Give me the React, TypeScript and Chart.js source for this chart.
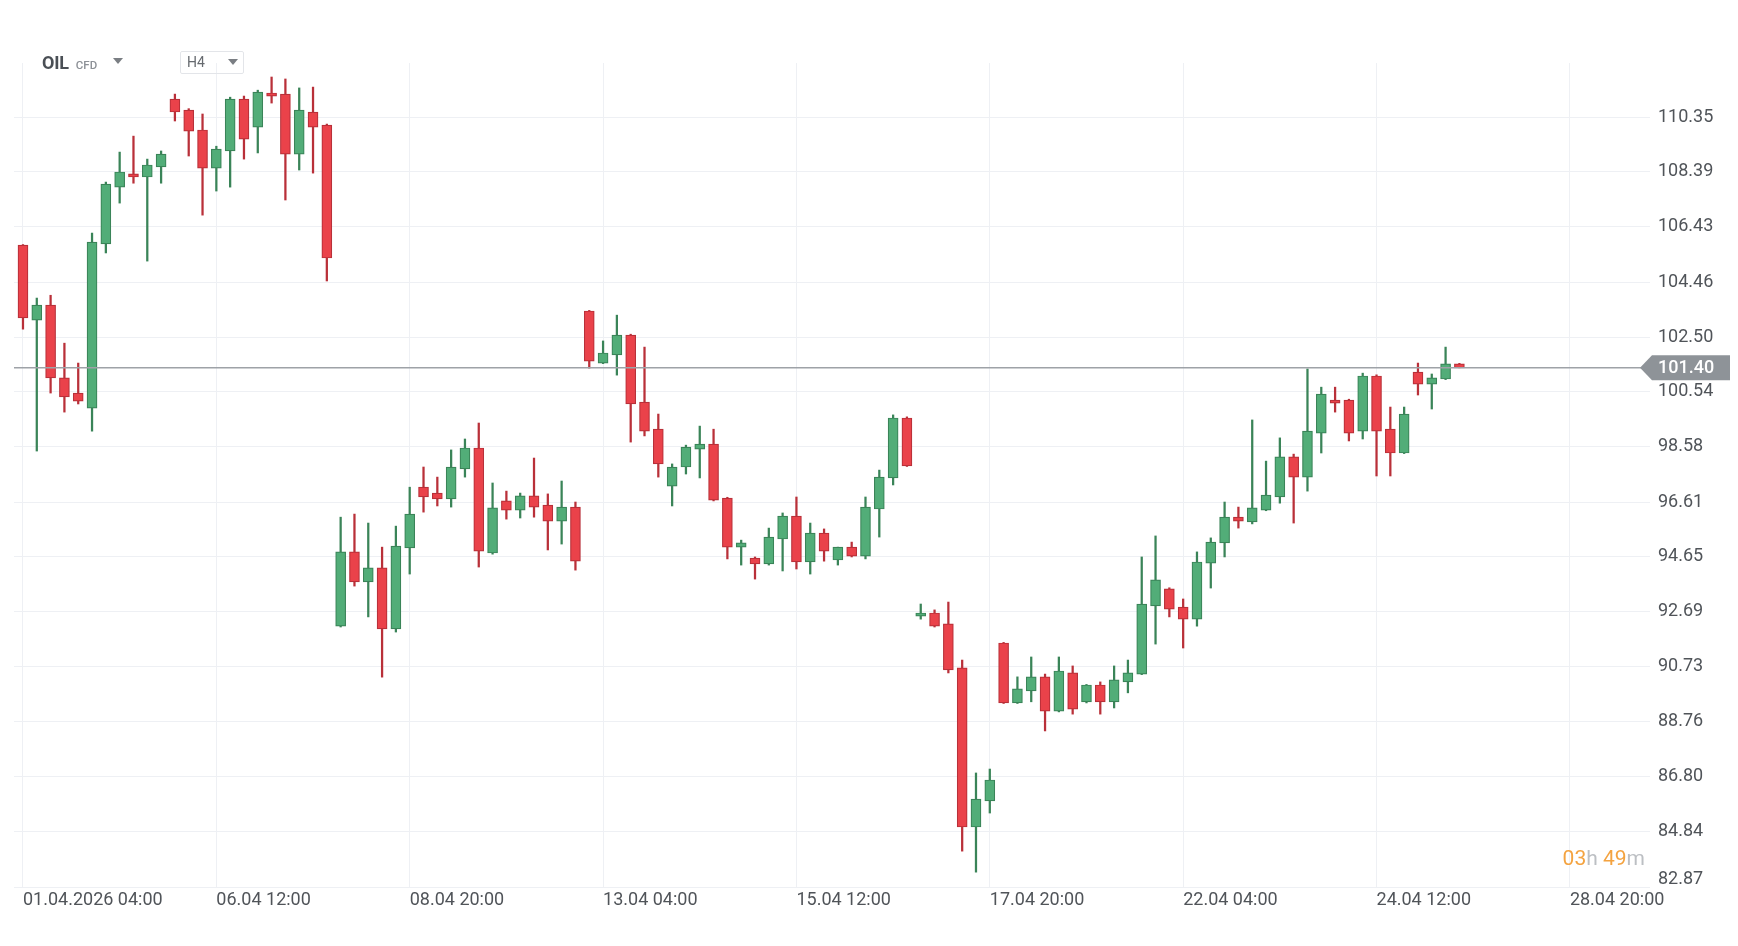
import React, { useEffect, useRef } from "react";
import { Chart, registerables } from "chart.js";

Chart.register(...registerables);

// ---- data (H4 candles, OIL CFD) ----
const opens = [
  105.78, 103.1, 103.64, 101.04, 100.5, 99.96, 105.82, 107.85, 108.32, 108.21,
  108.57, 110.99, 110.6, 109.89, 108.53, 109.14, 110.99, 109.99, 111.21, 111.17,
  109.03, 110.53, 110.06, 92.18, 94.83, 93.76, 94.26, 92.08, 94.97, 97.14,
  96.93, 96.72, 97.79, 98.54, 94.79, 96.65, 96.32, 96.83, 96.5, 95.93,
  96.43, 103.43, 101.57, 101.86, 102.57, 100.18, 99.21, 97.18, 97.86, 98.5,
  98.68, 96.75, 95.0, 94.61, 94.4, 95.29, 96.11, 94.47, 95.5, 94.54,
  95.0, 94.68, 96.36, 97.47, 99.61, 92.54, 92.65, 92.26, 90.69, 85.01,
  85.94, 91.58, 89.44, 89.87, 90.37, 89.15, 90.51, 89.48, 90.08, 89.48,
  90.19, 90.47, 92.9, 93.51, 92.86, 92.43, 94.43, 95.15, 96.07, 95.9,
  96.32, 96.79, 98.22, 97.5, 99.07, 100.25, 100.25, 99.14, 101.11, 99.21,
  98.36, 101.25, 100.82, 101.0, 101.54,
];
const highs = [
  105.8, 103.89, 103.99, 102.28, 101.57, 106.21, 108.03, 109.1, 109.67, 108.85,
  109.14, 111.17, 110.65, 110.46, 109.31, 111.06, 111.1, 111.31, 111.78, 111.71,
  111.39, 111.42, 110.1, 96.07, 96.18, 95.86, 95.0, 95.75, 97.14, 97.86,
  97.5, 98.47, 98.86, 99.43, 97.29, 97.0, 96.93, 98.18, 96.9, 97.36,
  96.61, 103.45, 102.36, 103.28, 102.6, 102.14, 99.75, 97.97, 98.64, 99.32,
  99.21, 96.78, 95.25, 94.65, 95.68, 96.22, 96.79, 95.86, 95.65, 95.0,
  95.18, 96.79, 97.75, 99.72, 99.65, 92.97, 92.76, 93.04, 90.97, 86.94,
  87.08, 91.6, 90.37, 91.08, 90.47, 91.08, 90.76, 90.1, 90.19, 90.76,
  90.97, 94.65, 95.4, 93.55, 93.15, 94.83, 95.33, 96.61, 96.43, 99.54,
  98.07, 98.9, 98.32, 101.36, 100.71, 100.71, 100.28, 101.21, 101.15, 100.0,
  100.0, 101.57, 101.18, 102.14, 101.56,
];
const lows = [
  102.78, 98.43, 100.5, 99.82, 100.11, 99.14, 105.5, 107.28, 107.99, 105.21,
  107.99, 110.21, 108.96, 106.85, 107.71, 107.85, 108.85, 109.07, 110.85, 107.39,
  108.46, 108.35, 104.5, 92.15, 93.61, 92.51, 90.36, 91.97, 94.04, 96.25,
  96.47, 96.43, 97.5, 94.29, 94.75, 96.0, 96.04, 96.07, 94.9, 95.11,
  94.18, 101.39, 101.55, 101.14, 98.75, 98.97, 97.5, 96.47, 97.61, 97.47,
  96.65, 94.58, 94.36, 93.86, 94.36, 94.15, 94.22, 94.04, 94.5, 94.36,
  94.65, 94.58, 95.36, 97.22, 97.88, 92.43, 92.15, 90.51, 84.15, 83.4,
  85.51, 89.42, 89.42, 89.48, 88.44, 89.12, 89.04, 89.44, 89.04, 89.26,
  89.8, 90.45, 91.54, 92.51, 91.4, 92.18, 93.54, 94.65, 95.68, 95.83,
  96.3, 96.57, 95.86, 97.0, 98.36, 99.82, 98.79, 98.86, 97.54, 97.54,
  98.34, 100.43, 99.93, 100.98, 101.4,
];
const closes = [
  103.18, 103.64, 101.04, 100.36, 100.21, 105.89, 107.96, 108.39, 108.21, 108.64,
  109.03, 110.53, 109.85, 108.53, 109.21, 110.99, 109.56, 111.24, 111.1, 109.03,
  110.6, 109.99, 105.32, 94.83, 93.76, 94.26, 92.08, 95.04, 96.18, 96.79,
  96.72, 97.86, 98.54, 94.86, 96.4, 96.32, 96.83, 96.43, 95.93, 96.43,
  94.5, 101.64, 101.93, 102.57, 100.11, 99.14, 97.97, 97.86, 98.57, 98.68,
  96.68, 95.0, 95.15, 94.4, 95.36, 96.11, 94.47, 95.5, 94.86, 95.0,
  94.68, 96.43, 97.5, 99.61, 97.9, 92.65, 92.18, 90.62, 85.01, 86.01,
  86.69, 89.44, 89.94, 90.37, 89.15, 90.58, 89.22, 90.08, 89.48, 90.26,
  90.51, 92.97, 93.83, 92.79, 92.43, 94.47, 95.18, 96.07, 95.93, 96.4,
  96.86, 98.22, 97.5, 99.14, 100.46, 100.14, 99.07, 101.11, 99.14, 98.36,
  99.75, 100.82, 101.04, 101.54, 101.4,
];

const currentPrice = 101.4;
const currentPriceLabel = "101.40";

const xTickIndices = [0, 14, 28, 42, 56, 70, 84, 98, 112];
const xTickLabels = [
  "01.04.2026 04:00",
  "06.04 12:00",
  "08.04 20:00",
  "13.04 04:00",
  "15.04 12:00",
  "17.04 20:00",
  "22.04 04:00",
  "24.04 12:00",
  "28.04 20:00",
];

const yTickLabels = [
  "82.87", "84.84", "86.80", "88.76", "90.73", "92.69", "94.65", "96.61",
  "98.58", "100.54", "102.50", "104.46", "106.43", "108.39", "110.35",
];

const X_MIN = -0.65;
const X_MAX = 117.8;
const Y_MIN = 82.87;
const Y_MAX = 112.28;

const UP_FILL = "#52ad78";
const UP_LINE = "#3a8458";
const DOWN_FILL = "#ea424a";
const DOWN_LINE = "#b93039";
const GRID = "#eef0f4";
const TEXT = "#505459";
const FONT = "Roboto, 'Noto Sans', sans-serif";

const priceTagPlugin = {
  id: "priceTag",
  afterDatasetsDraw(chart: any) {
    const { ctx, chartArea } = chart;
    const y = chart.scales.y.getPixelForValue(currentPrice);
    const tip = chartArea.right - 10;
    const boxL = chartArea.right + 2;
    const boxR = chartArea.right + 80;
    const h = 25;
    ctx.save();
    ctx.fillStyle = "#8e9398";
    ctx.beginPath();
    ctx.moveTo(tip, y);
    ctx.lineTo(boxL, y - h / 2);
    ctx.lineTo(boxR, y - h / 2);
    ctx.lineTo(boxR, y + h / 2);
    ctx.lineTo(boxL, y + h / 2);
    ctx.closePath();
    ctx.fill();
    ctx.fillStyle = "#ffffff";
    ctx.font = `500 18px ${FONT}`;
    ctx.textAlign = "left";
    ctx.textBaseline = "middle";
    ctx.fillText(currentPriceLabel, chartArea.right + 8, y + 1);
    ctx.restore();
  },
};

function Triangle({ left, top }: { left: number; top: number }) {
  return (
    <div
      style={{
        position: "absolute",
        left,
        top,
        width: 0,
        height: 0,
        borderLeft: "5.5px solid transparent",
        borderRight: "5.5px solid transparent",
        borderTop: "6px solid #7a7e83",
      }}
    />
  );
}

export default function App() {
  const ref = useRef<HTMLCanvasElement>(null);

  useEffect(() => {
    const idx = opens.map((_, i) => i);
    const up = idx.map((i) => closes[i] >= opens[i]);
    const chart = new Chart(ref.current as HTMLCanvasElement, {
      type: "bar",
      data: {
        datasets: [
          {
            type: "line",
            order: 0,
            data: [
              { x: X_MIN, y: currentPrice },
              { x: X_MAX, y: currentPrice },
            ],
            borderColor: "#9ea2a7",
            borderWidth: 1.5,
            pointRadius: 0,
          } as any,
          {
            type: "bar",
            order: 1,
            data: idx.map((i) => ({ x: i, y: [opens[i], closes[i]] })),
            backgroundColor: up.map((u) => (u ? UP_FILL : DOWN_FILL)),
            borderColor: up.map((u) => (u ? UP_LINE : DOWN_LINE)),
            borderWidth: 1.2,
            borderSkipped: false,
            barThickness: 10,
            grouped: false,
          } as any,
          {
            type: "bar",
            order: 2,
            data: idx.map((i) => ({ x: i, y: [lows[i], highs[i]] })),
            backgroundColor: up.map((u) => (u ? UP_LINE : DOWN_LINE)),
            borderWidth: 0,
            barThickness: 1.6,
            grouped: false,
          } as any,
        ],
      },
      options: {
        animation: false,
        responsive: true,
        maintainAspectRatio: false,
        layout: { padding: { left: 14, top: 63, right: 0, bottom: 0 } },
        plugins: {
          legend: { display: false },
          tooltip: { enabled: false },
        },
        scales: {
          x: {
            type: "linear",
            min: X_MIN,
            max: X_MAX,
            offset: false,
            border: { display: false },
            grid: { color: GRID, lineWidth: 1, drawTicks: false, offset: false },
            afterBuildTicks: (scale: any) => {
              scale.ticks = xTickIndices.map((v) => ({ value: v }));
            },
            afterFit: (scale: any) => {
              scale.height = 59;
            },
            ticks: {
              autoSkip: false,
              maxRotation: 0,
              minRotation: 0,
              align: "start",
              padding: 3,
              color: TEXT,
              font: { family: FONT, size: 18 },
              callback: (_v: any, i: number) => xTickLabels[i],
            },
          },
          y: {
            type: "linear",
            position: "right",
            min: Y_MIN,
            max: Y_MAX,
            border: { display: false },
            grid: { color: GRID, lineWidth: 1, drawTicks: false },
            afterBuildTicks: (scale: any) => {
              scale.ticks = yTickLabels.map((s) => ({ value: parseFloat(s) }));
            },
            afterFit: (scale: any) => {
              scale.width = 88;
            },
            ticks: {
              autoSkip: false,
              padding: 8,
              color: TEXT,
              font: { family: FONT, size: 18, lineHeight: 0.78 },
              // the lowest label sits slightly above its grid line, as in the source
              callback: (_v: any, i: number) =>
                i === 0 ? [yTickLabels[i], ""] : yTickLabels[i],
            },
          },
        },
      } as any,
      plugins: [priceTagPlugin],
    });
    return () => chart.destroy();
  }, []);

  return (
    <div
      style={{
        position: "absolute",
        left: 0,
        top: 0,
        width: 1738,
        height: 946,
        background: "#ffffff",
        fontFamily: FONT,
        overflow: "hidden",
      }}
    >
      <canvas ref={ref} style={{ position: "absolute", left: 0, top: 0 }} />
      <div
        style={{
          position: "absolute",
          left: 42,
          top: 52,
          height: 22,
          lineHeight: "22px",
          display: "flex",
          alignItems: "baseline",
          whiteSpace: "nowrap",
        }}
      >
        <span style={{ fontSize: 18, fontWeight: 700, color: "#4a4f55", letterSpacing: -0.2 }}>OIL</span>
        <span style={{ fontSize: 11.5, fontWeight: 500, color: "#8c9096", marginLeft: 7 }}>CFD</span>
      </div>
      <Triangle left={113} top={58} />
      <div
        style={{
          position: "absolute",
          left: 180,
          top: 51,
          width: 64,
          height: 23,
          border: "1px solid #e3e5e9",
          borderRadius: 2,
          boxSizing: "border-box",
        }}
      >
        <span
          style={{
            position: "absolute",
            left: 6,
            top: 0,
            lineHeight: "21px",
            fontSize: 14,
            color: "#666a6f",
          }}
        >
          H4
        </span>
      </div>
      <Triangle left={228} top={59} />
      <div
        style={{
          position: "absolute",
          right: 93,
          top: 845,
          lineHeight: "26px",
          fontSize: 21,
          whiteSpace: "nowrap",
        }}
      >
        <span style={{ color: "#f4a340" }}>03</span>
        <span style={{ color: "#bcbfc3" }}>h </span>
        <span style={{ color: "#f4a340" }}>49</span>
        <span style={{ color: "#bcbfc3" }}>m</span>
      </div>
    </div>
  );
}
